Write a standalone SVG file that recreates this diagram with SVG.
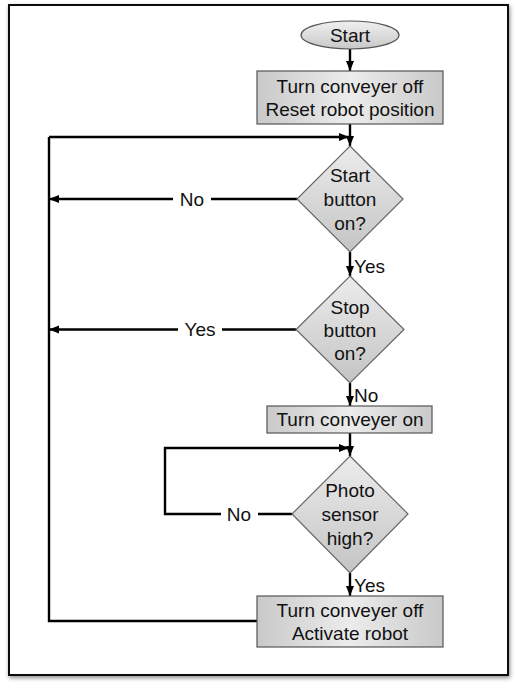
<svg xmlns="http://www.w3.org/2000/svg" width="516" height="688" viewBox="0 0 516 688">
<defs>
<linearGradient id="gbox" x1="0" y1="0" x2="1" y2="0">
<stop offset="0" stop-color="#c9c9c9"/>
<stop offset="0.5" stop-color="#ececec"/>
<stop offset="1" stop-color="#c9c9c9"/>
</linearGradient>
<linearGradient id="gdia" x1="0" y1="0" x2="0" y2="1">
<stop offset="0" stop-color="#ececec"/>
<stop offset="1" stop-color="#c4c4c4"/>
</linearGradient>
<linearGradient id="gell" x1="0" y1="0" x2="0" y2="1">
<stop offset="0" stop-color="#f0f0f0"/>
<stop offset="1" stop-color="#c8c8c8"/>
</linearGradient>
<marker id="arr" markerUnits="userSpaceOnUse" markerWidth="12" markerHeight="10" refX="10" refY="4" orient="auto">
<path d="M0,0 L10,4 L0,8 Z" fill="#000"/>
</marker>
<filter id="sh" x="-5%" y="-5%" width="110%" height="110%">
<feDropShadow dx="1" dy="2" stdDeviation="2" flood-color="#000" flood-opacity="0.45"/>
</filter>
</defs>
<style>
.t{font-family:"Liberation Sans",Arial,Helvetica,sans-serif;font-size:19px;fill:#111;text-anchor:middle}
.l{font-family:"Liberation Sans",Arial,Helvetica,sans-serif;font-size:19px;fill:#111}
.box{fill:url(#gbox);stroke:#555;stroke-width:1.2}
.dia{fill:url(#gdia);stroke:#666;stroke-width:1.2}
.c{fill:none;stroke:#000;stroke-width:2.4}
.ca{fill:none;stroke:#000;stroke-width:2.4;marker-end:url(#arr)}
</style>
<rect x="9" y="5" width="499" height="670" fill="#fff" stroke="#111" stroke-width="2" filter="url(#sh)"/>
<g id="connectors">
<path class="ca" d="M350,49 V71"/>
<path class="ca" d="M350,124 V146"/>
<path class="ca" d="M49,137 H349"/>
<path class="c" d="M297,199 H211"/>
<path class="ca" d="M173,199 H49"/>
<path class="ca" d="M350,252 V276"/>
<path class="c" d="M296,329.5 H222"/>
<path class="ca" d="M178,329.5 H49"/>
<path class="ca" d="M350,383 V406"/>
<path class="ca" d="M350,433 V456"/>
<path class="c" d="M292,514 H258"/>
<path class="ca" d="M221,514 H165 V448 H349"/>
<path class="ca" d="M350,573 V596"/>
<path class="c" d="M257,621 H49 V137"/>
<text class="t" x="192" y="206">No</text>
<text class="t" x="200" y="336">Yes</text>
<text class="t" x="239" y="521">No</text>
<text class="l" x="354" y="273">Yes</text>
<text class="l" x="354" y="402">No</text>
<text class="l" x="354" y="592">Yes</text>
</g>
<g id="start">
<ellipse cx="350" cy="35" rx="49" ry="14" fill="url(#gell)" stroke="#555" stroke-width="1.2"/>
<text class="t" x="350" y="42">Start</text>
</g>
<g id="reset">
<rect class="box" x="257" y="71" width="186" height="53"/>
<text class="t" x="350" y="93">Turn conveyer off</text>
<text class="t" x="350" y="116">Reset robot position</text>
</g>
<g id="startbutton">
<polygon class="dia" points="350,146 403,199 350,252 297,199"/>
<text class="t" x="350" y="182">Start</text>
<text class="t" x="350" y="206">button</text>
<text class="t" x="350" y="230">on?</text>
</g>
<g id="stopbutton">
<polygon class="dia" points="350,276 404,329.5 350,383 296,329.5"/>
<text class="t" x="350" y="314">Stop</text>
<text class="t" x="350" y="337">button</text>
<text class="t" x="350" y="360">on?</text>
</g>
<g id="conveyeron">
<rect class="box" x="267" y="406" width="165" height="27"/>
<text class="t" x="350" y="426">Turn conveyer on</text>
</g>
<g id="photosensor">
<polygon class="dia" points="350,456 408,514 350,573 292,514"/>
<text class="t" x="350" y="497">Photo</text>
<text class="t" x="350" y="521">sensor</text>
<text class="t" x="350" y="545">high?</text>
</g>
<g id="activate">
<rect class="box" x="257" y="596" width="186" height="51"/>
<text class="t" x="350" y="617">Turn conveyer off</text>
<text class="t" x="350" y="640">Activate robot</text>
</g>
</svg>
